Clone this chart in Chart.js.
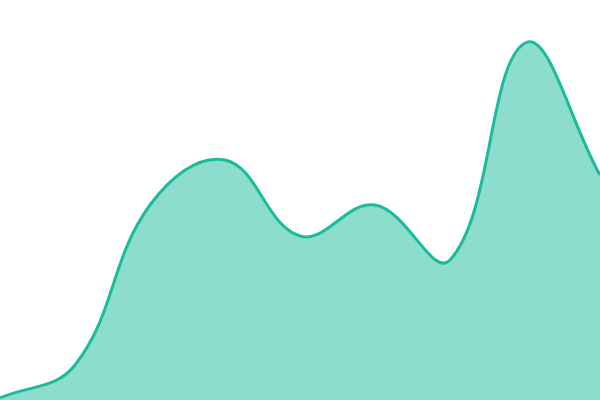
<!DOCTYPE html>
<html>
<head>
<meta charset="utf-8">
<script src="https://cdn.jsdelivr.net/npm/chart.js@4"></script>
<style>
  html, body { margin: 0; padding: 0; background: #fff; }
  #wrap { width: 600px; height: 400px; }
</style>
</head>
<body>
<div id="wrap"><canvas id="areaChart"></canvas></div>
<script>
const labels = ['1', '2', '3', '4', '5', '6', '7', '8', '9'];
const values = [2, 35, 195, 240, 164, 195, 140, 357, 225];

const ctx = document.getElementById('areaChart').getContext('2d');
new Chart(ctx, {
    type: 'line',
    data: {
        labels: labels,
        datasets: [{
            data: values,
            borderColor: '#1abc9c',
            backgroundColor: 'rgba(26, 188, 156, 0.5)',
            borderWidth: 3,
            fill: true,
            tension: 0.4,
            pointRadius: 0
        }]
    },
    options: {
        responsive: true,
        maintainAspectRatio: false,
        animation: false,
        layout: { padding: 0 },
        plugins: {
            legend: { display: false },
            tooltip: { enabled: false }
        },
        scales: {
            x: { display: false },
            y: { display: false, min: 0, max: 400 }
        }
    }
});
</script>
</body>
</html>
